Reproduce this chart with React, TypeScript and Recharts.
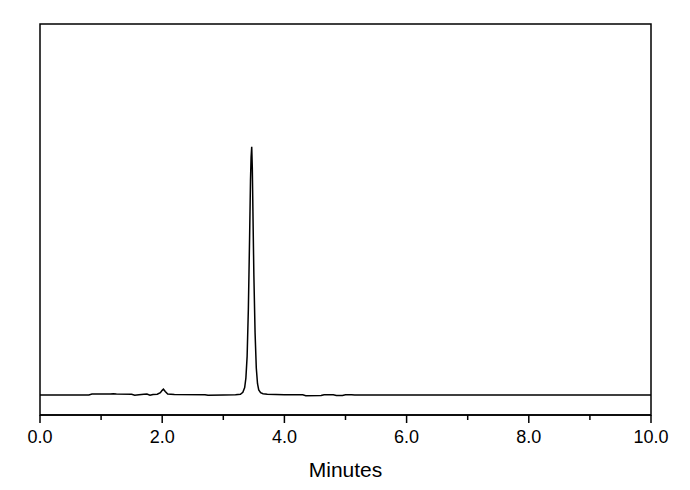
import React from "react";
import { LineChart, Line, XAxis, YAxis, Label, ReferenceArea } from "recharts";

const times = [
  0, 0.8, 0.85, 1.15, 1.2, 1.25, 1.5, 1.55, 1.62, 1.7, 1.75, 1.8, 1.85, 1.92, 1.97, 2.0, 2.02, 2.05, 2.09, 2.2,
  2.7, 2.75, 3.0, 3.2, 3.28, 3.32, 3.35, 3.37, 3.39, 3.41, 3.43, 3.445, 3.455, 3.465, 3.475, 3.485, 3.5, 3.52,
  3.54, 3.56, 3.58, 3.61, 3.65, 3.72, 4.0, 4.3, 4.35, 4.6, 4.65, 4.8, 4.85, 4.95, 5.0, 5.1, 5.15, 10,
];
const signal = [
  5.13, 5.13, 5.35, 5.35, 5.45, 5.35, 5.3, 5.05, 5.2, 5.3, 5.35, 5.05, 5.25, 5.3, 5.7, 6.3, 6.6, 6.0, 5.35, 5.25,
  5.2, 5.05, 5.1, 5.15, 5.3, 5.8, 7.0, 9.5, 15, 27, 45, 60, 66, 68.6, 63, 52, 36, 21,
  12, 8, 6.4, 5.7, 5.45, 5.3, 5.2, 5.15, 4.95, 5.0, 5.2, 5.2, 5.0, 5.0, 5.2, 5.2, 5.13, 5.13,
];
const xTicks = [0, 1, 2, 3, 4, 5, 6, 7, 8, 9, 10];

const data = times.map((t, i) => ({ t, v: signal[i] }));

const FONT = "'Liberation Sans', Arial, sans-serif";

const Tick = (props: any) => {
  const { x, y, payload } = props;
  const val = payload.value as number;
  const major = val % 2 === 0;
  return (
    <g>
      <line x1={x} x2={x} y1={y} y2={y + (major ? 8 : 5)} stroke="#000" strokeWidth={1.5} />
      {major && (
        <text x={x} y={y + 28} textAnchor="middle" fontSize={18} fontFamily={FONT} fill="#000">
          {val.toFixed(1)}
        </text>
      )}
    </g>
  );
};

export default function App() {
  return (
    <div style={{ position: "absolute", left: 0, top: 0, background: "#fff" }}>
      <LineChart width={690} height={490} data={data} margin={{ top: 24, right: 39, left: 40, bottom: 0 }}>
        <XAxis
          dataKey="t"
          type="number"
          domain={[0, 10]}
          ticks={xTicks}
          height={75}
          tickSize={0}
          tickMargin={0}
          tickLine={false}
          tick={<Tick />}
          axisLine={{ stroke: "#000", strokeWidth: 1.5 }}
          interval={0}
          allowDataOverflow
        >
          <Label
            value="Minutes"
            position="insideBottom"
            offset={13}
            style={{ fontSize: 21, fontFamily: FONT, fill: "#000" }}
          />
        </XAxis>
        <YAxis type="number" domain={[0, 100]} width={0} hide allowDataOverflow />
        <ReferenceArea
          x1={0}
          x2={10}
          y1={0}
          y2={100}
          fill="none"
          fillOpacity={0}
          stroke="#000"
          strokeWidth={1.5}
          strokeOpacity={1}
          ifOverflow="visible"
        />
        <Line
          type="linear"
          dataKey="v"
          stroke="#000"
          strokeWidth={1.5}
          dot={false}
          isAnimationActive={false}
        />
      </LineChart>
    </div>
  );
}
